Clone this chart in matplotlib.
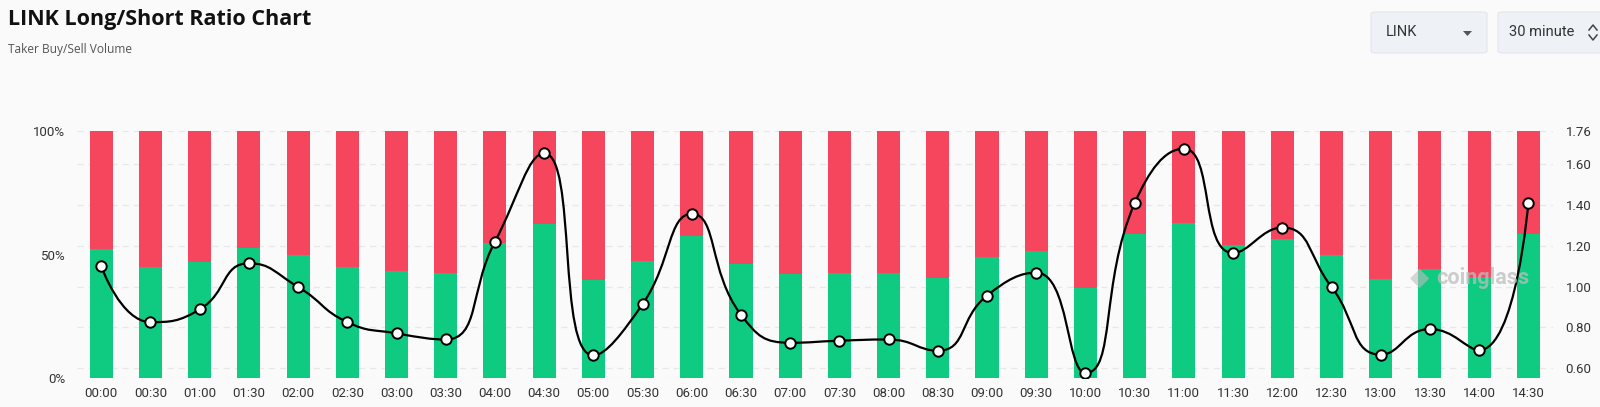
import numpy as np
import matplotlib
matplotlib.use("Agg")
import matplotlib.pyplot as plt
from matplotlib.patches import FancyBboxPatch, Polygon
from matplotlib.path import Path
from matplotlib.patches import PathPatch

# ---------------- data ----------------
times = ["00:00", "00:30", "01:00", "01:30", "02:00", "02:30", "03:00", "03:30",
         "04:00", "04:30", "05:00", "05:30", "06:00", "06:30", "07:00", "07:30",
         "08:00", "08:30", "09:00", "09:30", "10:00", "10:30", "11:00", "11:30",
         "12:00", "12:30", "13:00", "13:30", "14:00", "14:30"]
long_pct = [52.2, 45.2, 47.0, 52.8, 49.9, 45.2, 43.5, 42.5, 54.9, 62.3,
            39.8, 47.6, 57.6, 46.3, 42.1, 42.5, 42.5, 40.8, 49.1, 51.6,
            36.7, 58.4, 62.8, 53.8, 56.3, 49.9, 40.1, 44.1, 41.2, 58.4]
ratio = [1.099, 0.826, 0.888, 1.114, 0.998, 0.826, 0.771, 0.741, 1.220, 1.652,
         0.663, 0.914, 1.356, 0.862, 0.725, 0.735, 0.741, 0.686, 0.956, 1.068,
         0.577, 1.408, 1.675, 1.164, 1.289, 0.998, 0.667, 0.792, 0.689, 1.408]
left_ticks = [0, 50, 100]
left_labels = ["0%", "50%", "100%"]
right_ticks = [0.60, 0.80, 1.00, 1.20, 1.40, 1.60, 1.76]
right_labels = ["0.60", "0.80", "1.00", "1.20", "1.40", "1.60", "1.76"]
r_min, r_max = 0.551, 1.76

GREEN = "#0ecb81"
RED = "#f6465d"
BG = "#fafafa"

plt.rcParams['font.family'] = ['Roboto', 'DejaVu Sans']

fig = plt.figure(figsize=(16, 4.07), dpi=100, facecolor=BG)
ax = fig.add_axes([0.0479, 0.0705, 0.9227, 0.6069])
ax.set_facecolor(BG)
x = np.arange(len(times))
short_pct = [100 - v for v in long_pct]

# grid lines (aligned to right-axis ticks)
for t in right_ticks:
    yl = (t - r_min) / (r_max - r_min) * 100
    ax.axhline(yl, color="#e8e8e8", lw=0.9, ls=(0, (5, 4)), zorder=0)
ax.axhline(0, color="#e8e8e8", lw=0.9, ls=(0, (5, 4)), zorder=0)

ax.bar(x, long_pct, width=0.47, color=GREEN, zorder=2)
ax.bar(x, short_pct, bottom=long_pct, width=0.47, color=RED, zorder=2)
ax.set_xlim(-0.5, len(times) - 0.5)
ax.set_ylim(0, 100)
ax.set_yticks(left_ticks)
ax.set_yticklabels(left_labels)
ax.set_xticks(x)
ax.set_xticklabels(times)
ax.tick_params(axis='both', length=0, labelsize=9.5, colors="#333333")
ax.tick_params(axis='x', pad=6)
ax.tick_params(axis='y', pad=8)
for s in ax.spines.values():
    s.set_visible(False)

ax2 = ax.twinx()
ax2.set_ylim(r_min, r_max)
ax2.set_yticks(right_ticks)
ax2.set_yticklabels(right_labels)
ax2.tick_params(axis='y', length=0, labelsize=9.5, colors="#333333", pad=9)
for s in ax2.spines.values():
    s.set_visible(False)
ax2.patch.set_visible(False)

# ECharts-5-like constrained smooth bezier (pixel-proportional space)
sx, sy = 49.2, 205.0
P = np.column_stack([x * sx, np.array(ratio) * sy])
n = len(P)
smooth = 0.5
cp_before = [P[i].copy() for i in range(n)]
cp_after = [P[i].copy() for i in range(n)]


def clamp(c, a, b):
    lo = np.minimum(a, b)
    hi = np.maximum(a, b)
    return np.minimum(np.maximum(c, lo), hi)


for i in range(1, n - 1):
    p, pr, nx = P[i], P[i - 1], P[i + 1]
    v = nx - pr
    lp = np.linalg.norm(p - pr)
    ln = np.linalg.norm(nx - p)
    rn = ln / (ln + lp)
    nc0 = p + v * smooth * rn
    nc0 = clamp(nc0, p, nx)
    w = nc0 - p
    c1 = p - w * lp / ln
    c1 = clamp(c1, pr, p)
    w = p - c1
    nc0 = p + w * ln / lp
    cp_before[i] = c1
    cp_after[i] = nc0

verts = [tuple(P[0])]
codes = [Path.MOVETO]
for i in range(n - 1):
    verts += [tuple(cp_after[i]), tuple(cp_before[i + 1]), tuple(P[i + 1])]
    codes += [Path.CURVE4] * 3
verts = [(a / sx, b / sy) for a, b in verts]
ax2.add_patch(PathPatch(Path(verts, codes), fill=False, edgecolor="black",
                        lw=1.6, zorder=3))
ax2.plot(x, ratio, ls="none", marker="o", ms=7.5, mfc="white", mec="black",
         mew=1.4, zorder=4)

# watermark
fig.text(1436 / 1600, 1 - 278 / 407, "coinglass", fontsize=15.5, fontweight="bold",
         color="#bdbdbd", alpha=0.75, ha="left", va="center")
fig.text(1420 / 1600, 1 - 278 / 407, "\u25C6", fontsize=18, color="#bdbdbd",
         alpha=0.6, ha="center", va="center")

# header
fig.text(8 / 1600, 1 - 20 / 407, "LINK Long/Short Ratio Chart", fontsize=15.5,
         fontweight="bold", family=["Open Sans", "DejaVu Sans"], color="#111111",
         ha="left", va="center")
fig.text(8 / 1600, 1 - 50 / 407, "Taker Buy/Sell Volume", fontsize=8.6,
         family=["Open Sans", "DejaVu Sans"], color="#555555",
         ha="left", va="center")


# controls
def box(x0, x1, y0, y1):
    b = FancyBboxPatch((x0 / 1600, 1 - y1 / 407), (x1 - x0) / 1600, (y1 - y0) / 407,
                       boxstyle="round,pad=0,rounding_size=0.004",
                       transform=fig.transFigure, facecolor="#eef1f5",
                       edgecolor="#e2e6eb", lw=0.8)
    fig.patches.append(b)


box(1371, 1487, 12, 53)
box(1498, 1640, 12, 53)
fig.text(1386 / 1600, 1 - 32.5 / 407, "LINK", fontsize=10.5, color="#333333",
         ha="left", va="center")
tri = Polygon([(1463 / 1600, 1 - 31 / 407), (1472 / 1600, 1 - 31 / 407),
               (1467.5 / 1600, 1 - 36 / 407)], closed=True,
              transform=fig.transFigure, facecolor="#555555", edgecolor="none")
fig.patches.append(tri)
fig.text(1509 / 1600, 1 - 32.5 / 407, "30 minute", fontsize=10.5, color="#333333",
         ha="left", va="center")
fig.lines.append(plt.Line2D([1589 / 1600, 1593 / 1600, 1597 / 1600],
                            [1 - 30 / 407, 1 - 25 / 407, 1 - 30 / 407],
                            transform=fig.transFigure, color="#444444", lw=1.1))
fig.lines.append(plt.Line2D([1589 / 1600, 1593 / 1600, 1597 / 1600],
                            [1 - 35 / 407, 1 - 40 / 407, 1 - 35 / 407],
                            transform=fig.transFigure, color="#444444", lw=1.1))

fig.savefig("out.png", dpi=100, facecolor=BG)
